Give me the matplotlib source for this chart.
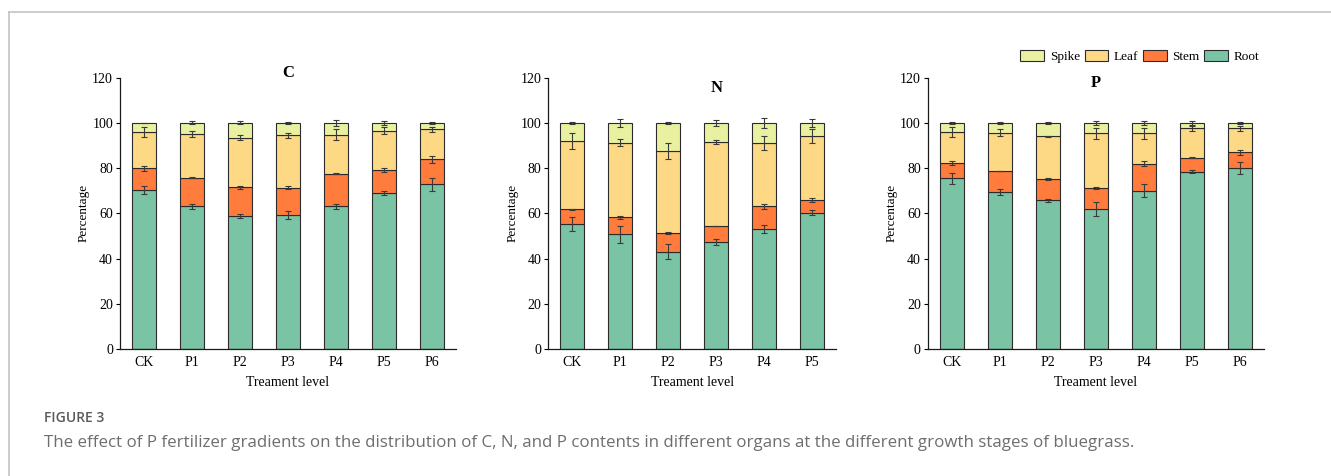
import matplotlib
matplotlib.use("Agg")
import matplotlib.pyplot as plt
from matplotlib.patches import Patch
from matplotlib.lines import Line2D
import numpy as np

organs = ["Root", "Stem", "Leaf", "Spike"]
colors = {"Root": "#7AC3A4", "Stem": "#FF7C3D", "Leaf": "#FED985", "Spike": "#E9F1A1"}

cats_C = ["CK", "P1", "P2", "P3", "P4", "P5", "P6"]
cats_N = ["CK", "P1", "P2", "P3", "P4", "P5"]
cats_P = ["CK", "P1", "P2", "P3", "P4", "P5", "P6"]

# segment values (percent)
C_root  = [70.4, 63.1, 59.0, 59.3, 63.1, 68.9, 72.9]
C_stem  = [9.5, 12.6, 12.5, 12.1, 14.5, 10.2, 11.0]
C_leaf  = [16.0, 19.4, 22.0, 23.1, 17.2, 17.5, 13.3]
C_spike = [4.1, 4.9, 6.5, 5.5, 5.2, 3.4, 2.8]
C_err_root  = [1.8, 1.25, 0.9, 1.7, 1.1, 0.9, 2.8]
C_err_stem  = [1.25, 0.2, 0.8, 0.7, 0.3, 1.0, 1.5]
C_err_leaf  = [2.1, 1.2, 1.1, 1.0, 2.3, 1.6, 1.0]
C_err_spike = [0.0, 0.7, 0.7, 0.6, 1.3, 0.9, 0.4]

N_root  = [55.3, 50.7, 43.1, 47.2, 53.1, 60.3]
N_stem  = [6.5, 7.5, 8.1, 7.4, 10.0, 5.5]
N_leaf  = [30.1, 33.1, 36.4, 37.0, 28.1, 28.3]
N_spike = [8.1, 8.7, 12.4, 8.4, 8.8, 5.9]
N_err_root  = [3.3, 3.8, 3.5, 1.3, 1.6, 1.1]
N_err_stem  = [0.3, 0.7, 0.4, 0.0, 1.2, 0.9]
N_err_leaf  = [3.5, 1.4, 3.4, 0.9, 3.2, 3.1]
N_err_spike = [0.3, 1.8, 0.6, 1.3, 2.2, 1.6]

P_root  = [75.5, 69.3, 65.8, 61.9, 70.1, 78.5, 79.9]
P_stem  = [6.9, 9.5, 9.3, 9.2, 11.8, 6.2, 7.1]
P_leaf  = [13.5, 16.9, 19.0, 24.3, 13.5, 12.9, 10.6]
P_spike = [4.1, 4.3, 5.9, 4.6, 4.6, 2.4, 2.4]
P_err_root  = [2.5, 1.25, 0.6, 3.2, 2.7, 0.7, 2.6]
P_err_stem  = [0.8, 0.0, 0.4, 0.4, 1.1, 0.3, 1.0]
P_err_leaf  = [2.3, 1.6, 0.3, 2.4, 2.4, 1.0, 1.0]
P_err_spike = [0.3, 0.4, 0.6, 0.8, 1.0, 1.0, 0.4]

panels = [
    ("C", cats_C, [C_root, C_stem, C_leaf, C_spike], [C_err_root, C_err_stem, C_err_leaf, C_err_spike], 122.0),
    ("N", cats_N, [N_root, N_stem, N_leaf, N_spike], [N_err_root, N_err_stem, N_err_leaf, N_err_spike], 115.5),
    ("P", cats_P, [P_root, P_stem, P_leaf, P_spike], [P_err_root, P_err_stem, P_err_leaf, P_err_spike], 117.8),
]

W, H = 1331, 476
fig = plt.figure(figsize=(W / 100, H / 100), dpi=100)
serif = ["Liberation Serif", "DejaVu Serif"]

ax_lefts = [120, 548.3, 927.7]
unit_px = 48.0
y0_px, ytop_px = 349.0, 77.7

for (name, cats, segs, errs, ty), lp in zip(panels, ax_lefts):
    n = len(cats)
    wpx = n * unit_px
    ax = fig.add_axes([lp / W, (H - y0_px) / H, wpx / W, (y0_px - ytop_px) / H])
    x = np.arange(n)
    bottom = np.zeros(n)
    tops = []
    for org, vals in zip(organs, segs):
        vals = np.array(vals)
        ax.bar(x, vals, 0.5, bottom=bottom, color=colors[org], edgecolor="#2b2b2b", linewidth=0.8, zorder=2)
        bottom = bottom + vals
        tops.append(bottom.copy())
    for top, e in zip(tops, errs):
        ax.errorbar(x, top, yerr=np.array(e), fmt="none", ecolor="#3a3a3a", elinewidth=0.8,
                    capsize=2.5, capthick=0.8, zorder=3)
    ax.set_xlim(-0.5, n - 0.5)
    ax.set_ylim(0, 120)
    ax.set_yticks([0, 20, 40, 60, 80, 100, 120])
    ax.set_xticks(x)
    ax.set_xticklabels(cats, fontfamily=serif, fontsize=10)
    for lab in ax.get_yticklabels():
        lab.set_fontfamily(serif)
        lab.set_fontsize(10)
    ax.tick_params(axis="y", direction="out", length=3, width=0.8, pad=2)
    ax.tick_params(axis="x", length=0, pad=5)
    for s in ["top", "right"]:
        ax.spines[s].set_visible(False)
    for s in ["left", "bottom"]:
        ax.spines[s].set_linewidth(0.9)
        ax.spines[s].set_color("#1a1a1a")
    ax.set_ylabel("Percentage", fontfamily=serif, fontsize=9.5)
    ax.yaxis.label.set_va("center")
    ax.yaxis.set_label_coords(-36 / wpx, 0.5)
    ax.set_xlabel("Treament level", fontfamily=serif, fontsize=10)
    ax.xaxis.label.set_va("center")
    ax.xaxis.set_label_coords(0.5, -(383 - y0_px) / (y0_px - ytop_px))
    ax.text(3.0, ty, name, ha="center", va="center", fontfamily=serif, fontsize=12, fontweight="bold")

handles = [Patch(facecolor=colors[o], edgecolor="#2b2b2b", linewidth=0.8) for o in ["Spike", "Leaf", "Stem", "Root"]]
leg = fig.legend(handles, ["Spike", "Leaf", "Stem", "Root"], ncol=4, loc="center right",
                 bbox_to_anchor=(1266 / W, 1 - 56.4 / H), frameon=False, borderpad=0,
                 handlelength=1.78, handleheight=0.87, handletextpad=0.45, columnspacing=0.35,
                 prop={"family": serif, "size": 9.5})

# frame lines
fig.add_artist(Line2D([9 / W, 1], [1 - 12 / H, 1 - 12 / H], transform=fig.transFigure, color="#c4c4c4", lw=1.2))
fig.add_artist(Line2D([9 / W, 9 / W], [0, 1 - 12 / H], transform=fig.transFigure, color="#c4c4c4", lw=1.2))

fig.text(44 / W, 1 - 418 / H, "FIGURE 3", ha="left", va="center", fontfamily="Open Sans",
         fontsize=10, fontweight="semibold", color="#5a5a5a")
fig.text(44 / W, 1 - 443 / H,
         "The effect of P fertilizer gradients on the distribution of C, N, and P contents in different organs at the different growth stages of bluegrass.",
         ha="left", va="center", fontfamily="Open Sans", fontsize=12.2, color="#6e6e6e")

fig.savefig("out.png", dpi=100)
